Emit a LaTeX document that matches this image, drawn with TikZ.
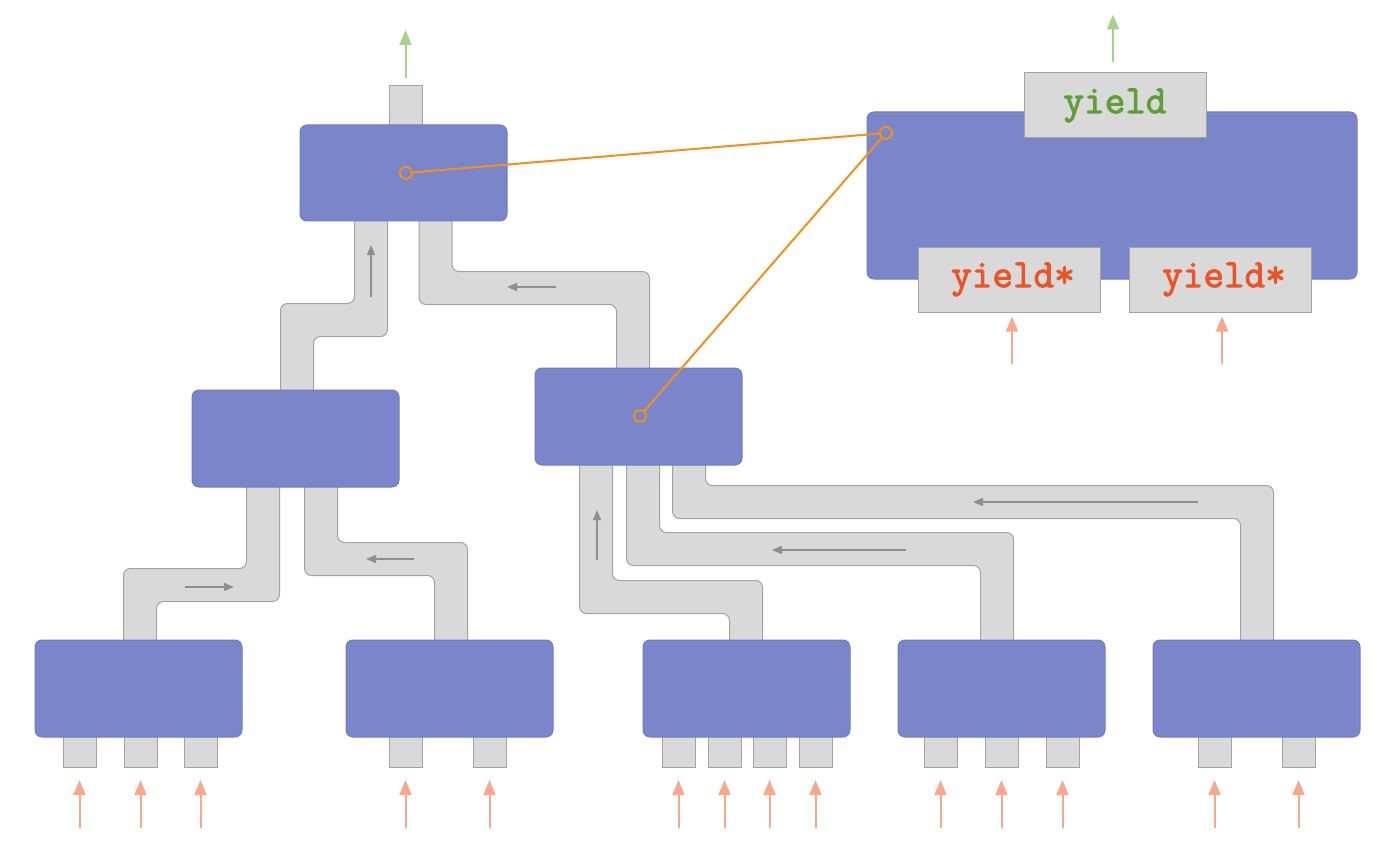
\documentclass[tikz,border=0pt]{standalone}
\usepackage{fontspec}
\newfontfamily\codefont[FakeBold=2.5]{Latin Modern Mono}
\usetikzlibrary{arrows.meta}
\definecolor{blk}{HTML}{7A86C9}
\definecolor{blkb}{HTML}{707CBF}
\definecolor{pipe}{HTML}{D9D9D9}
\definecolor{pipeb}{HTML}{A3A3A3}
\definecolor{garrow}{HTML}{8E8E8E}
\definecolor{inarrow}{HTML}{F8A98D}
\definecolor{outarrow}{HTML}{A9D18E}
\definecolor{link}{HTML}{F0901F}
\definecolor{ygreen}{HTML}{5F9F3A}
\definecolor{yred}{HTML}{EA5528}
\tikzset{
  block/.style={draw=blkb, fill=blk, rounded corners=7pt, line width=1pt, inner sep=0pt},
  stub/.style={draw=pipeb, fill=pipe, line width=1pt, inner sep=0pt},
  pipepath/.style={draw=pipeb, fill=pipe, line width=1pt, rounded corners=7pt},
  flow/.style={draw=garrow, line width=1.5pt, -{Triangle[width=8pt,length=10pt]}},
  inp/.style={draw=inarrow, line width=2pt, -{Triangle[width=12pt,length=15pt]}},
  outp/.style={draw=outarrow, line width=2pt, -{Triangle[width=12pt,length=15pt]}},
  linkline/.style={draw=link, line width=2pt},
  hole/.style={circle, draw=link, line width=2pt, minimum size=12pt, inner sep=0pt},
  ytext/.style={font=\codefont\bfseries\fontsize{40}{44}\selectfont},
}
% #1 x top, #2 y top, #3 y middle, #4 x bottom, #5 y bottom, #6 direction sign
\newcommand\pipeZ[6]{%
  \path[pipepath] ({#1-(#6)*16.5},#2) -- ({#1-(#6)*16.5},{#3+16.5}) -- ({#4-(#6)*16.5},{#3+16.5})
    -- ({#4-(#6)*16.5},#5) -- ({#4+(#6)*16.5},#5) -- ({#4+(#6)*16.5},{#3-16.5})
    -- ({#1+(#6)*16.5},{#3-16.5}) -- ({#1+(#6)*16.5},#2) -- cycle;}
\begin{document}
\begin{tikzpicture}[x=1pt,y=-1pt]
\useasboundingbox (0,0) rectangle (1400,853);
\fill[white] (0,0) rectangle (1400,853);

% pipes
\pipeZ{371}{215}{320}{297}{396}{-1}
\pipeZ{435.5}{215}{288}{633}{374}{1}
\pipeZ{263}{481}{585}{140}{646}{-1}
\pipeZ{321}{481}{559}{451}{646}{1}
\pipeZ{596}{459}{597}{746}{646}{1}
\pipeZ{643}{459}{549}{997}{646}{1}
\pipeZ{689}{459}{502}{1257}{646}{1}

% output stub above the root
\node[stub, minimum width=33pt, minimum height=46pt, anchor=north] (top) at (405.5,85) {};

% input stubs
\foreach \nm/\x in {s1/79.5, s2/140.5, s3/200.5, s4/405.5, s5/489.5, s6/678.5, s7/724.5,
                    s8/769.5, s9/815.5, s10/940.5, s11/1001.5, s12/1062.5, s13/1214.5, s14/1298.5}{
  \node[stub, minimum width=33pt, minimum height=37pt, anchor=south] (\nm) at (\x,768) {};
  \draw[inp] (\nm.south) ++(0,60) -- ++(0,-48);
}

% blocks
\node[block, minimum width=207pt, minimum height=96pt] (A) at (403.5,173) {};
\node[block, minimum width=207pt, minimum height=97pt] (B) at (295.5,438.5) {};
\node[block, minimum width=207pt, minimum height=97pt] (C) at (638.5,416.5) {};
\foreach \nm/\x in {D1/138.5, D2/449.5, D3/746.5, D4/1001.5, D5/1256.5}{
  \node[block, minimum width=207pt, minimum height=97pt] (\nm) at (\x,688.5) {};
}
\node[block, minimum width=490pt, minimum height=167pt] (E) at (1112,195.5) {};

% flow arrows inside pipes
\draw[flow] (371,297) -- (371,245);
\draw[flow] (556,287) -- (507,287);
\draw[flow] (185,587) -- (234,587);
\draw[flow] (414,559) -- (366,559);
\draw[flow] (597,560) -- (597,510);
\draw[flow] (906,550) -- (772,550);
\draw[flow] (1198,502) -- (973,502);

% output arrow of root
\draw[outp] (top.north) ++(0,-7) -- ++(0,-48);

% yield boxes
\node[stub, minimum width=182pt, minimum height=65pt, ytext, text=ygreen] (Y) at (1115,105.5) {\raisebox{-3pt}{yield}};
\node[stub, minimum width=182pt, minimum height=65pt, ytext, text=yred] (YA) at (1009,279.5) {\hspace{8pt}\raisebox{-3pt}{yield*}};
\node[stub, minimum width=182pt, minimum height=65pt, ytext, text=yred] (YB) at (1220,279.5) {\hspace{8pt}\raisebox{-3pt}{yield*}};
\draw[outp] (Y.north) ++(-2,-10) -- ++(0,-48);
\draw[inp] (YA.south) ++(3,51) -- ++(0,-47);
\draw[inp] (YB.south) ++(2,51) -- ++(0,-47);

% links
\node[hole] (hA) at (406,173) {};
\node[hole] (hC) at (640,416) {};
\node[hole] (hE) at (886,133) {};
\draw[linkline] (hA) -- (hE);
\draw[linkline] (hC) -- (hE);
\end{tikzpicture}
\end{document}
